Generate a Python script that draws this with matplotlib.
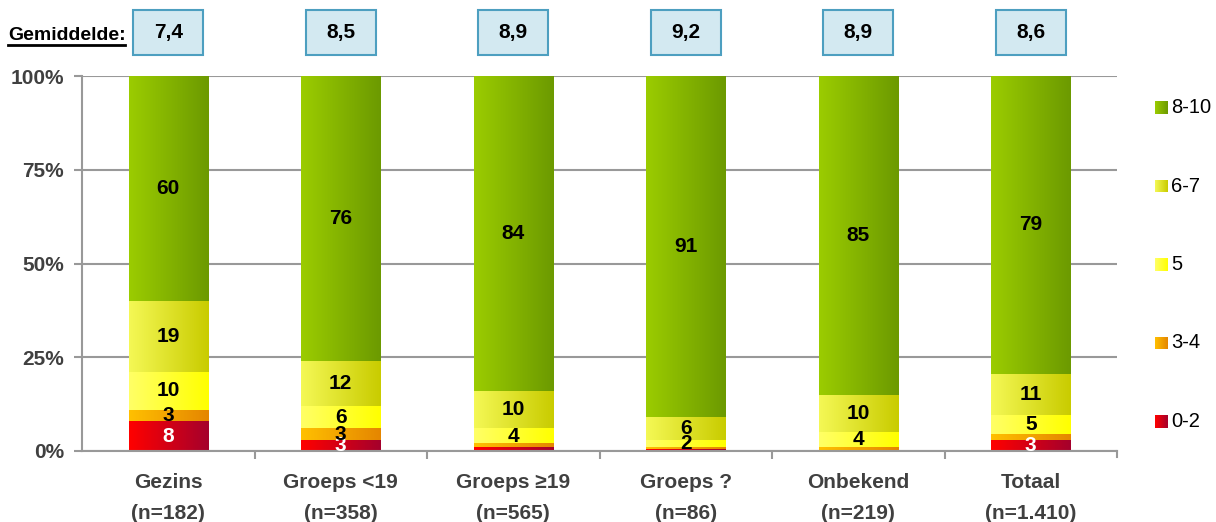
import numpy as np
import matplotlib
matplotlib.use("Agg")
import matplotlib.pyplot as plt
from matplotlib.colors import to_rgb
from matplotlib.patches import Rectangle
from matplotlib.lines import Line2D

plt.rcParams['font.family'] = ['Liberation Sans', 'DejaVu Sans']

categories = ["Gezins", "Groeps <19", "Groeps \u226519", "Groeps ?", "Onbekend", "Totaal"]
counts = ["n=182", "n=358", "n=565", "n=86", "n=219", "n=1.410"]
gemiddelde = ["7,4", "8,5", "8,9", "9,2", "8,9", "8,6"]

klassen = ["0-2", "3-4", "5", "6-7", "8-10"]
score_0_2 = [8, 3, 1, 0.6, 0.3, 3]
score_3_4 = [3, 3, 1, 0.4, 0.7, 1.5]
score_5 = [10, 6, 4, 2, 4, 5]
score_6_7 = [19, 12, 10, 6, 10, 11]
score_8_10 = [60, 76, 84, 91, 85, 79]

# gradient per class: left colour, right colour
kleuren = {
    "0-2": ("#ff0000", "#a5002c"),
    "3-4": ("#ffc000", "#e58600"),
    "5": ("#ffff66", "#ffff00"),
    "6-7": ("#f4f855", "#c9cc00"),
    "8-10": ("#9bcc00", "#6c9a00"),
}
tekstkleur = {"0-2": "white", "3-4": "black", "5": "black", "6-7": "black", "8-10": "black"}


def gradient(links, rechts, n=64):
    a = np.array(to_rgb(links))
    b = np.array(to_rgb(rechts))
    t = np.linspace(0, 1, n)[:, None]
    return (a + (b - a) * t)[None, :, :]


fig = plt.figure(figsize=(12.16, 5.22), dpi=100)
ax = fig.add_axes([82 / 1216, 1 - 451 / 522, (1117 - 82) / 1216, (451 - 76) / 522])

series = np.array([score_0_2, score_3_4, score_5, score_6_7, score_8_10], dtype=float)
totals = series.sum(axis=0)
breedte = 0.46

for i in range(len(categories)):
    bodem = 0.0
    for k, klas in enumerate(klassen):
        waarde = series[k, i]
        hoogte = waarde / totals[i] * 100
        if hoogte > 0:
            ax.imshow(gradient(*kleuren[klas]), extent=[i - breedte / 2, i + breedte / 2, bodem, bodem + hoogte],
                      aspect='auto', interpolation='bilinear', zorder=2)
            if waarde >= 2:
                ax.text(i, bodem + hoogte / 2, f"{waarde:g}", ha='center', va='center',
                        fontsize=15, fontweight='bold', color=tekstkleur[klas], zorder=3)
        bodem += hoogte

ax.set_xlim(-0.5, len(categories) - 0.5)
ax.set_ylim(0, 100)

ax.set_yticks([0, 25, 50, 75, 100])
ax.set_yticklabels(["0%", "25%", "50%", "75%", "100%"], fontsize=15, fontweight='bold', color='#404040')
ax.grid(axis='y', color='#999999', linewidth=1.5, zorder=0)
ax.set_axisbelow(True)

ax.set_xticks(range(len(categories)))
ax.set_xticklabels([f"{c}\n({n})" for c, n in zip(categories, counts)], fontsize=15,
                   fontweight='bold', color='#404040', linespacing=1.78)
ax.set_xticks(np.arange(0.5, len(categories) - 0.5, 1), minor=True)
ax.tick_params(axis='x', which='major', length=0, pad=16)
ax.tick_params(axis='x', which='minor', length=6, width=1.5, color='#999999')
ax.tick_params(axis='y', length=6, width=1.5, color='#999999', pad=7)

for kant in ['top', 'right']:
    ax.spines[kant].set_visible(False)
for kant in ['left', 'bottom']:
    ax.spines[kant].set_color('#999999')
    ax.spines[kant].set_linewidth(1.5)
ax.plot([len(categories) - 0.5] * 2, [0, -1.6], color='#999999', lw=1.5, clip_on=False)

# gemiddelde score boven elke kolom
for i, g in enumerate(gemiddelde):
    ax.add_patch(Rectangle((i - 0.203, 105.6), 0.406, 12.0, facecolor='#d3e9f1', edgecolor='#4d9fc0',
                           lw=1.5, clip_on=False))
    ax.text(i, 111.6, g, ha='center', va='center', fontsize=15, fontweight='bold', clip_on=False)

fig.text(8 / 1216, 1 - 40 / 522, "Gemiddelde:", fontsize=14, fontweight='bold', va='baseline')
fig.add_artist(Line2D([8 / 1216, 125 / 1216], [1 - 45 / 522, 1 - 45 / 522], color='black', lw=2))

# legenda
for j, klas in enumerate(reversed(klassen)):
    yc = 107.5 + j * 78.5
    lax = fig.add_axes([1155 / 1216, 1 - (yc + 6.5) / 522, 13 / 1216, 13 / 522])
    lax.imshow(gradient(*kleuren[klas]), aspect='auto', interpolation='bilinear')
    lax.axis('off')
    fig.text(1171 / 1216, 1 - yc / 522, klas, fontsize=14.5, va='center', ha='left')

fig.savefig("out.png", dpi=100)
